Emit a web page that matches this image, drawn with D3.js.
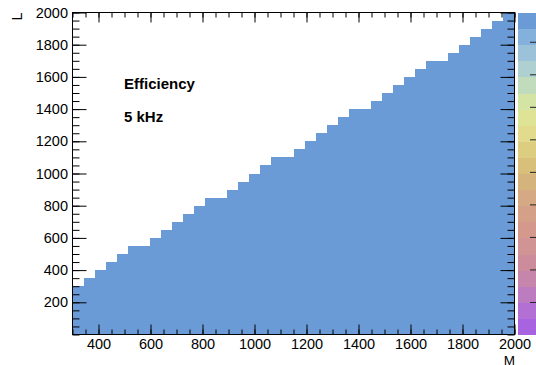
<!DOCTYPE html>
<html>
<head>
<meta charset="utf-8">
<script src="https://cdn.jsdelivr.net/npm/d3@7"></script>
<style>
  body { margin: 0; background: #fff; }
  svg { display: block; }
  text { font-family: "Liberation Sans", Arial, Helvetica, sans-serif; fill: #000; }
</style>
</head>
<body>
<svg id="chart" width="536" height="365"></svg>
<script>
// M bin edges (40 bins from 300 to 2000)
const mEdges = [300, 342.5, 385, 427.5, 470, 512.5, 555, 597.5, 640, 682.5,
  725, 767.5, 810, 852.5, 895, 937.5, 980, 1022.5, 1065, 1107.5,
  1150, 1192.5, 1235, 1277.5, 1320, 1362.5, 1405, 1447.5, 1490, 1532.5,
  1575, 1617.5, 1660, 1702.5, 1745, 1787.5, 1830, 1872.5, 1915, 1957.5, 2000];

// Upper L edge of the filled region in each M bin
const lMax = [300, 350, 400, 450, 500, 550, 550, 600, 650, 700,
  750, 800, 850, 850, 900, 950, 1000, 1050, 1100, 1100,
  1150, 1200, 1250, 1300, 1350, 1400, 1400, 1450, 1500, 1550,
  1600, 1650, 1700, 1700, 1750, 1800, 1850, 1900, 1950, 2000];

// Efficiency content of the filled cells and the colour-axis range
const efficiency = 0.99;
const zRange = [0, 0.99];

// Axis ranges and labelled ticks
const mRange = [300, 2000];
const lRange = [0, 2000];
const mTicks = [400, 600, 800, 1000, 1200, 1400, 1600, 1800, 2000];
const lTicks = [200, 400, 600, 800, 1000, 1200, 1400, 1600, 1800, 2000];
const zTicks = [0.1, 0.2, 0.3, 0.4, 0.5, 0.6, 0.7, 0.8, 0.9];

// Palette, 20 contour levels from low (index 0) to high
const palette = ["#a864e0", "#b270d4", "#be7cc0", "#c686ac", "#cc8c9c",
  "#d09494", "#d4998c", "#d4a088", "#d4a983", "#d4b47c",
  "#d8c07a", "#dccd80", "#e2da8c", "#dfe396", "#d4e4a4",
  "#c0dcbc", "#aed0d0", "#9cc2da", "#84b0dc", "#6b9bd6"];

const frame = { left: 72.5, right: 514.5, top: 12.5, bottom: 334.5 };
const pal = { left: 518, right: 540 };

const svg = d3.select("#chart");

const x = d3.scaleLinear().domain(mRange).range([frame.left, frame.right]);
const y = d3.scaleLinear().domain(lRange).range([frame.bottom, frame.top]);
const z = d3.scaleLinear().domain(zRange).range([frame.bottom, frame.top]);
const zColor = d3.scaleQuantize().domain(zRange).range(palette);
const fmt = d3.format("d");

// Histogram cells
const bins = lMax.map((l, i) => ({ m0: mEdges[i], m1: mEdges[i + 1], l }));
svg.append("g")
  .selectAll("rect")
  .data(bins)
  .join("rect")
  .attr("x", d => x(d.m0))
  .attr("width", d => x(d.m1) - x(d.m0) + 0.4)
  .attr("y", d => y(d.l))
  .attr("height", d => y(lRange[0]) - y(d.l))
  .attr("fill", zColor(efficiency))
  .attr("shape-rendering", "crispEdges");

// Axis helper: ticks drawn inward, labels optional
function drawAxis(axisFn, scale, values, size, translate, labels, pad) {
  const a = axisFn(scale).tickValues(values).tickSizeInner(size).tickSizeOuter(0)
    .tickPadding(pad || 3).tickFormat(labels ? fmt : "");
  const g = svg.append("g").attr("transform", translate).call(a);
  g.select(".domain").remove();
  g.selectAll("line").attr("stroke", "#000").attr("stroke-width", 1);
  g.selectAll("text").attr("font-size", "14.5px").attr("fill", "#000");
  return g;
}

const mMinor = x.ticks(34);
const lMinor = y.ticks(40);

// bottom
drawAxis(d3.axisBottom, x, mMinor, -5, `translate(0,${frame.bottom})`, false);
drawAxis(d3.axisBottom, x, mTicks, -10, `translate(0,${frame.bottom})`, true, 4);
// top
drawAxis(d3.axisTop, x, mMinor, -5, `translate(0,${frame.top})`, false);
drawAxis(d3.axisTop, x, mTicks, -10, `translate(0,${frame.top})`, false);
// left
drawAxis(d3.axisLeft, y, lMinor, -7, `translate(${frame.left},0)`, false);
drawAxis(d3.axisLeft, y, lTicks, -14, `translate(${frame.left},0)`, true, 4.5);
// right
drawAxis(d3.axisRight, y, lMinor, -7, `translate(${frame.right},0)`, false);
drawAxis(d3.axisRight, y, lTicks, -14, `translate(${frame.right},0)`, false);

// frame
svg.append("rect")
  .attr("x", frame.left).attr("y", frame.top)
  .attr("width", frame.right - frame.left).attr("height", frame.bottom - frame.top)
  .attr("fill", "none").attr("stroke", "#000").attr("stroke-width", 1);

// colour palette
const levels = palette.map((c, i) => ({
  z0: zRange[0] + (zRange[1] - zRange[0]) * i / palette.length,
  z1: zRange[0] + (zRange[1] - zRange[0]) * (i + 1) / palette.length,
  c
}));
svg.append("g")
  .selectAll("rect")
  .data(levels)
  .join("rect")
  .attr("x", pal.left)
  .attr("width", pal.right - pal.left)
  .attr("y", d => z(d.z1))
  .attr("height", d => z(d.z0) - z(d.z1) + 0.5)
  .attr("fill", d => d.c)
  .attr("shape-rendering", "crispEdges");

const zAxis = d3.axisRight(z).tickValues(zTicks).tickSizeInner(-9.5).tickSizeOuter(0).tickFormat("");
const zg = svg.append("g").attr("transform", `translate(${pal.right - 0.5},0)`).call(zAxis);
zg.select(".domain").remove();
zg.selectAll("line").attr("stroke", "#222").attr("stroke-width", 1);

// axis titles
svg.append("text")
  .attr("transform", `translate(22,${frame.top}) rotate(-90)`)
  .attr("text-anchor", "end")
  .attr("font-size", "14.5px")
  .text("L");
svg.append("text")
  .attr("x", frame.right + 0.5).attr("y", 364.5)
  .attr("text-anchor", "end")
  .attr("font-size", "13.5px")
  .text("M");

// labels
svg.append("text")
  .attr("x", 124).attr("y", 89.3)
  .attr("font-size", "15px").attr("font-weight", "bold")
  .text("Efficiency");
svg.append("text")
  .attr("x", 124).attr("y", 121.7)
  .attr("font-size", "15px").attr("font-weight", "bold")
  .text("5 kHz");
</script>
</body>
</html>
